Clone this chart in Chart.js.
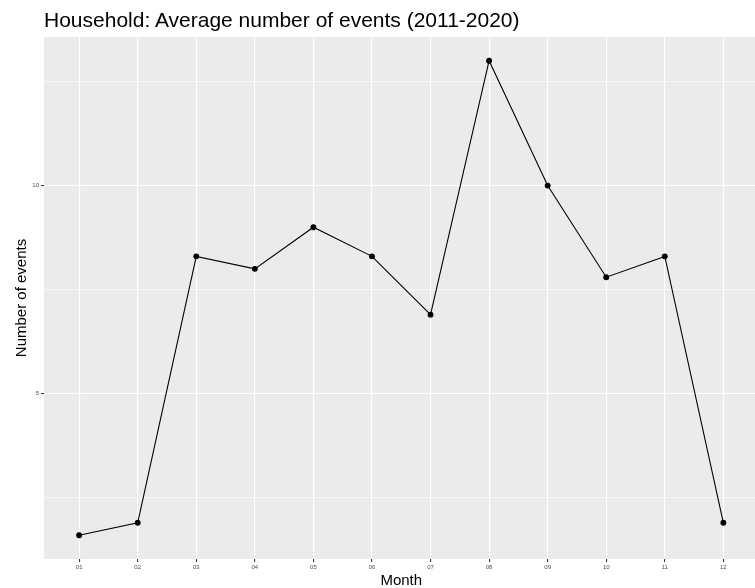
<!DOCTYPE html>
<html lang="en">
<head>
  <meta charset="UTF-8" />
  <title>Household: Average number of events (2011-2020)</title>
  <script src="https://cdn.jsdelivr.net/npm/chart.js"></script>
  <style>
    body {
      margin: 0;
      overflow: hidden;
      background: #ffffff;
      font-family: "Liberation Sans", Arial, sans-serif;
    }
    #wrap {
      position: relative;
      width: 755px;
      height: 588px;
      overflow: hidden;
    }
    #titulo {
      position: absolute;
      left: 44px;
      top: 8px;
      font-size: 21px;
      color: #000;
      white-space: nowrap;
    }
    /* el panel sigue un poco mas alla del borde, como en el original recortado */
    canvas {
      display: block;
    }
  </style>
</head>
<body>
<div id="wrap">
  <div id="titulo">Household: Average number of events (2011-2020)</div>
  <canvas id="grafico" width="762" height="588"></canvas>
</div>
<script>
  // datos
  const months = ['01', '02', '03', '04', '05', '06', '07', '08', '09', '10', '11', '12'];
  const events = [1.6, 1.9, 8.3, 8.0, 9.0, 8.3, 6.9, 13.0, 10.0, 7.8, 8.3, 1.9];
  const yMajor = [5, 10];
  const yMinor = [2.5, 7.5, 12.5];

  // fondo gris del panel
  const panelBg = {
    id: 'panelBg',
    beforeDraw(chart) {
      const a = chart.chartArea;
      const ctx = chart.ctx;
      ctx.save();
      ctx.fillStyle = '#EBEBEB';
      ctx.fillRect(a.left, a.top, a.right - a.left, a.bottom - a.top);
      ctx.restore();
    }
  };

  const ctx = document.getElementById('grafico').getContext('2d');
  new Chart(ctx, {
    type: 'line',
    data: {
      datasets: [{
        label: 'Number of events',
        data: months.map((m, i) => ({ x: i + 1, y: events[i] })),
        borderColor: '#000000',
        backgroundColor: '#000000',
        borderWidth: 1.1,
        pointRadius: 2.4,
        pointHoverRadius: 2.4,
        tension: 0
      }]
    },
    options: {
      responsive: false,
      animation: false,
      layout: { padding: { top: 37, right: 0, left: 0, bottom: 0 } },
      plugins: {
        legend: { display: false },
        tooltip: { enabled: false }
      },
      scales: {
        x: {
          type: 'linear',
          min: 0.4,
          max: 12.6,
          afterBuildTicks: s => { s.ticks = months.map((m, i) => ({ value: i + 1 })); },
          afterFit: s => {
            s.height = 29;
            s.paddingLeft = 0;
            s.paddingRight = 0;
          },
          border: { display: false },
          grid: {
            color: '#FFFFFF',
            lineWidth: 1.1,
            tickColor: '#333333',
            tickLength: 3
          },
          ticks: {
            autoSkip: false,
            maxRotation: 0,
            padding: 2,
            color: '#4D4D4D',
            font: { size: 6, family: 'Liberation Sans' },
            callback: v => months[Math.round(v) - 1]
          },
          title: {
            display: true,
            text: 'Month',
            color: '#000000',
            font: { size: 15, family: 'Liberation Sans' },
            padding: { top: 0, bottom: -2 }
          }
        },
        y: {
          min: 1.03,
          max: 13.57,
          afterBuildTicks: s => {
            s.ticks = yMinor.concat(yMajor).sort((a, b) => a - b).map(v => ({ value: v }));
          },
          afterFit: s => { s.width = 44; },
          border: { display: false },
          grid: {
            color: '#FFFFFF',
            lineWidth: c => yMajor.includes(c.tick.value) ? 1.1 : 0.55,
            tickColor: c => yMajor.includes(c.tick.value) ? '#333333' : 'rgba(0,0,0,0)',
            tickLength: 3
          },
          ticks: {
            padding: 2,
            color: '#4D4D4D',
            font: { size: 6, family: 'Liberation Sans' },
            callback: v => yMajor.includes(v) ? String(v) : ''
          },
          title: {
            display: true,
            text: 'Number of events',
            color: '#000000',
            font: { size: 15, family: 'Liberation Sans' },
            padding: { top: 13, bottom: 0 }
          }
        }
      }
    },
    plugins: [panelBg]
  });
</script>
</body>
</html>
